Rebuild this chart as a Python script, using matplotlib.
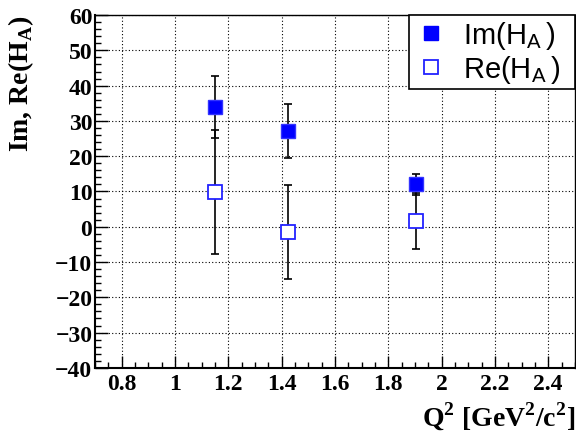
import matplotlib.pyplot as plt
from matplotlib.lines import Line2D
from matplotlib.ticker import MultipleLocator

# Data
q2_im = [1.15, 1.425, 1.905]
im_val = [34.0, 27.1, 12.0]
im_err = [8.8, 7.7, 3.0]

q2_re = [1.15, 1.425, 1.905]
re_val = [9.9, -1.5, 1.6]
re_err = [17.6, 13.2, 7.9]

blue = '#0000ff'

fig = plt.figure(figsize=(5.76, 4.35), dpi=100)
ax = fig.add_axes([0.165, 0.152, 0.833, 0.811])

ax.errorbar(q2_im, im_val, yerr=im_err, fmt='none', ecolor='black',
            elinewidth=1.2, capsize=3, capthick=1.2, zorder=2)
ax.errorbar(q2_re, re_val, yerr=re_err, fmt='none', ecolor='black',
            elinewidth=1.2, capsize=3, capthick=1.2, zorder=2)
ax.plot(q2_im, im_val, 's', color=blue, markersize=9.5, markeredgecolor='#3333ff',
        markeredgewidth=1, linestyle='none', zorder=3)
ax.plot(q2_re, re_val, 's', markerfacecolor='white', markeredgecolor='#2222ff',
        markersize=10, markeredgewidth=1.3, linestyle='none', zorder=3)

ax.set_xlim(0.7, 2.5)
ax.set_ylim(-40, 60)
ax.xaxis.set_major_locator(MultipleLocator(0.2))
ax.xaxis.set_minor_locator(MultipleLocator(0.05))
ax.yaxis.set_major_locator(MultipleLocator(10))
ax.yaxis.set_minor_locator(MultipleLocator(2))
ax.tick_params(which='both', direction='in', top=False, right=False)
ax.tick_params(which='major', length=9, width=1)
ax.tick_params(which='minor', length=4.5, width=1)
ax.grid(True, which='major', color='black', linestyle=(0, (1, 2)), linewidth=0.8)

tick_font = {'family': 'Liberation Serif', 'weight': 'bold', 'size': 17}
label_font = {'family': 'Liberation Serif', 'weight': 'bold', 'size': 20}
ax.set_xticks([0.8, 1.0, 1.2, 1.4, 1.6, 1.8, 2.0, 2.2, 2.4])
ax.set_xticklabels(['0.8', '1', '1.2', '1.4', '1.6', '1.8', '2', '2.2', '2.4'], fontdict=tick_font)
ax.set_yticks(range(-40, 61, 10))
ax.set_yticklabels([f'{v:d}'.replace('-', '\u2212') for v in range(-40, 61, 10)], fontdict=tick_font)
ax.tick_params(axis='x', pad=4)
ax.tick_params(axis='y', pad=2)

for side in ['left', 'bottom']:
    ax.spines[side].set_linewidth(1.5)
for side in ['top', 'right']:
    ax.spines[side].set_linewidth(1)

ax.set_ylabel(r'Im, Re(H$_{\mathregular{A}}$)', fontdict=label_font, loc='top', labelpad=14)
ax.set_xlabel(r'Q$^{\mathregular{2}}$ [GeV$^{\mathregular{2}}$/c$^{\mathregular{2}}$]',
              fontdict=label_font, loc='right', labelpad=4)

handles = [
    Line2D([], [], marker='s', color=blue, linestyle='none', markersize=9.5),
    Line2D([], [], marker='s', markerfacecolor='white', markeredgecolor='#2222ff',
           linestyle='none', markersize=9.5, markeredgewidth=1.3),
]
leg = ax.legend(handles, [r'Im(H$_{\mathregular{A}}\,$)  ', r'Re(H$_{\mathregular{A}}\,$)  '],
                loc='upper right', bbox_to_anchor=(1.0, 1.0), borderaxespad=0,
                fancybox=False, framealpha=1, edgecolor='black',
                prop={'family': 'Liberation Sans', 'size': 21},
                handletextpad=0.5, borderpad=0.15, labelspacing=0.05, handlelength=1.2)
leg.get_frame().set_linewidth(1.2)

fig.savefig('out.png', dpi=100)
